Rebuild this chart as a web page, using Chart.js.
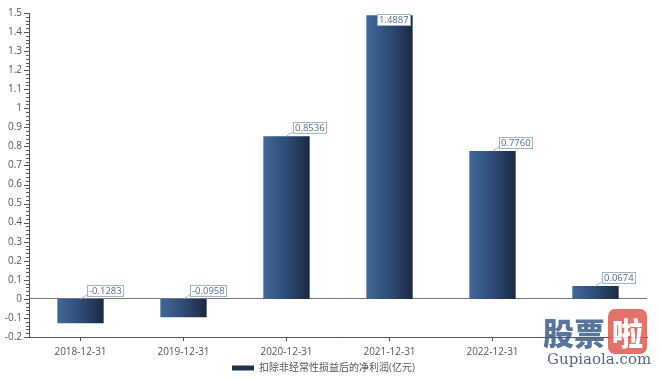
<!DOCTYPE html>
<html><head><meta charset="utf-8">
<script src="https://cdn.jsdelivr.net/npm/chart.js@4"></script>
<style>
html,body{margin:0;padding:0;background:#fff;overflow:hidden}
#wrap{position:relative;width:660px;height:379px;overflow:hidden}
#wm{position:absolute;left:543px;top:314px;width:117px;height:65px;font-family:"Noto Sans CJK SC",sans-serif;}
#wm .cn{font-size:31px;font-weight:900;color:#3c5d8a;line-height:36px;opacity:0.85;white-space:nowrap}
#wm .cn span{background:#e05a4f;color:#fff;border-radius:7px;padding:0 4px;margin-left:3px}
#wm .en{font-family:"DejaVu Serif",serif;font-size:15px;color:#3a4a6a;line-height:18px;margin-left:4px;opacity:0.85}
</style>
</head><body>
<div id="wrap"><canvas id="c" width="660" height="379"></canvas>
<div id="wm"><div class="cn">股票<span>啦</span></div><div class="en">Gupiaola.com</div></div>
</div>
<script>
const categories = ["2018-12-31","2019-12-31","2020-12-31","2021-12-31","2022-12-31","2023-12-31"];
const xLabels = ["2018-12-31","2019-12-31","2020-12-31","2021-12-31","2022-12-31",""];
const netProfit = [-0.1283,-0.0958,0.8536,1.4887,0.7760,0.0674];
const seriesName = "扣除非经常性损益后的净利润(亿元)";
const yMin = -0.2, yMax = 1.5, yStep = 0.1, yMinorStep = 0.02;

const FONT = '"Open Sans","Noto Sans CJK SC",sans-serif';

function barGradient(ctx){
  const chart = ctx.chart;
  const xs = chart.scales && chart.scales.x;
  if(!xs || !chart.chartArea) return '#2c4770';
  const i = ctx.dataIndex;
  const cx = xs.getPixelForValue(i);
  const cw = (xs.right - xs.left)/categories.length;
  const w = cw*0.9*0.5;
  const g = chart.ctx.createLinearGradient(cx-w/2,0,cx+w/2,0);
  g.addColorStop(0,'#41689a');
  g.addColorStop(0.5,'#2e4c75');
  g.addColorStop(1,'#1c2942');
  return g;
}

const minorTicks = {
  id:'minorTicks',
  afterDraw(chart){
    const y = chart.scales.y, c = chart.ctx;
    c.save(); c.strokeStyle='#555'; c.lineWidth=1;
    const n = Math.round((yMax-yMin)/yMinorStep);
    for(let k=0;k<=n;k++){
      const v = yMin + k*yMinorStep;
      const p = Math.round(y.getPixelForValue(v))+0.5;
      const major = Math.abs(v/yStep - Math.round(v/yStep))<1e-6;
      c.beginPath(); c.moveTo(y.right-(major?5:3),p); c.lineTo(y.right,p); c.stroke();
    }
    c.restore();
  }
};

const valueLabels = {
  id:'valueLabels',
  afterDatasetsDraw(chart){
    const c = chart.ctx, ys = chart.scales.y, area = chart.chartArea;
    const meta = chart.getDatasetMeta(0);
    c.save();
    c.font = '9.5px '+FONT;
    c.textBaseline='middle';
    meta.data.forEach((el,i)=>{
      const v = netProfit[i];
      const txt = v.toFixed(4);
      const x = el.x;
      const top = ys.getPixelForValue(Math.max(0,v));
      const tw = Math.round(c.measureText(txt).width + 3);
      let bx = Math.round(x+6)+0.5, by = Math.round(top-14)+0.5;
      let line = true;
      if(by < area.top+1){ by = area.top+1.5; bx = Math.round(x - tw/2 + 4)+0.5; line=false; }
      if(line){
        c.strokeStyle='#9db3c9'; c.lineWidth=1;
        c.beginPath(); c.moveTo(x,top); c.lineTo(bx,by+9); c.stroke();
      }
      c.fillStyle='#ffffff';
      c.fillRect(bx,by,tw,11);
      c.strokeStyle='#9db3c9'; c.lineWidth=1;
      c.strokeRect(bx,by,tw,11);
      c.fillStyle='#4e6e91';
      c.textAlign='left';
      c.fillText(txt,bx+1.5,by+6);
    });
    c.restore();
  }
};

new Chart(document.getElementById('c'),{
  type:'bar',
  data:{labels:categories,datasets:[{label:seriesName,data:netProfit,backgroundColor:barGradient,borderWidth:0,barPercentage:0.5,categoryPercentage:0.9}]},
  options:{
    responsive:false,animation:false,
    layout:{padding:{left:0,right:13,top:12,bottom:-4}},
    plugins:{
      tooltip:{enabled:false},
      legend:{position:'bottom',labels:{font:{size:10,family:FONT},color:'#555',boxWidth:22,boxHeight:5,padding:1,
        generateLabels(chart){return [{text:seriesName,fillStyle:'#22334f',strokeStyle:'#22334f',lineWidth:0,hidden:false,datasetIndex:0,fontColor:'#555'}];}}}
    },
    scales:{
      x:{
        grid:{display:true,offset:false,drawOnChartArea:false,tickLength:4,color:'#555'},
        border:{display:true,color:'#555'},
        ticks:{color:'#555',font:{size:10,family:FONT},padding:5,maxRotation:0,autoSkip:false,callback:(v,i)=>xLabels[i]},
        afterFit(s){s.height=25;}
      },
      y:{
        min:yMin,max:yMax,
        grid:{drawTicks:false,color:(ctx)=>Math.abs(ctx.tick.value)<1e-9?'#777':'rgba(0,0,0,0)'},
        border:{display:true,color:'#555'},
        ticks:{stepSize:yStep,color:'#555',font:{size:10,family:FONT},padding:7,
          callback:(v)=>{const r=Math.round(v*10)/10;return String(r);}},
        afterFit(s){s.width=29;}
      }
    }
  },
  plugins:[minorTicks,valueLabels]
});
</script>
</body></html>
